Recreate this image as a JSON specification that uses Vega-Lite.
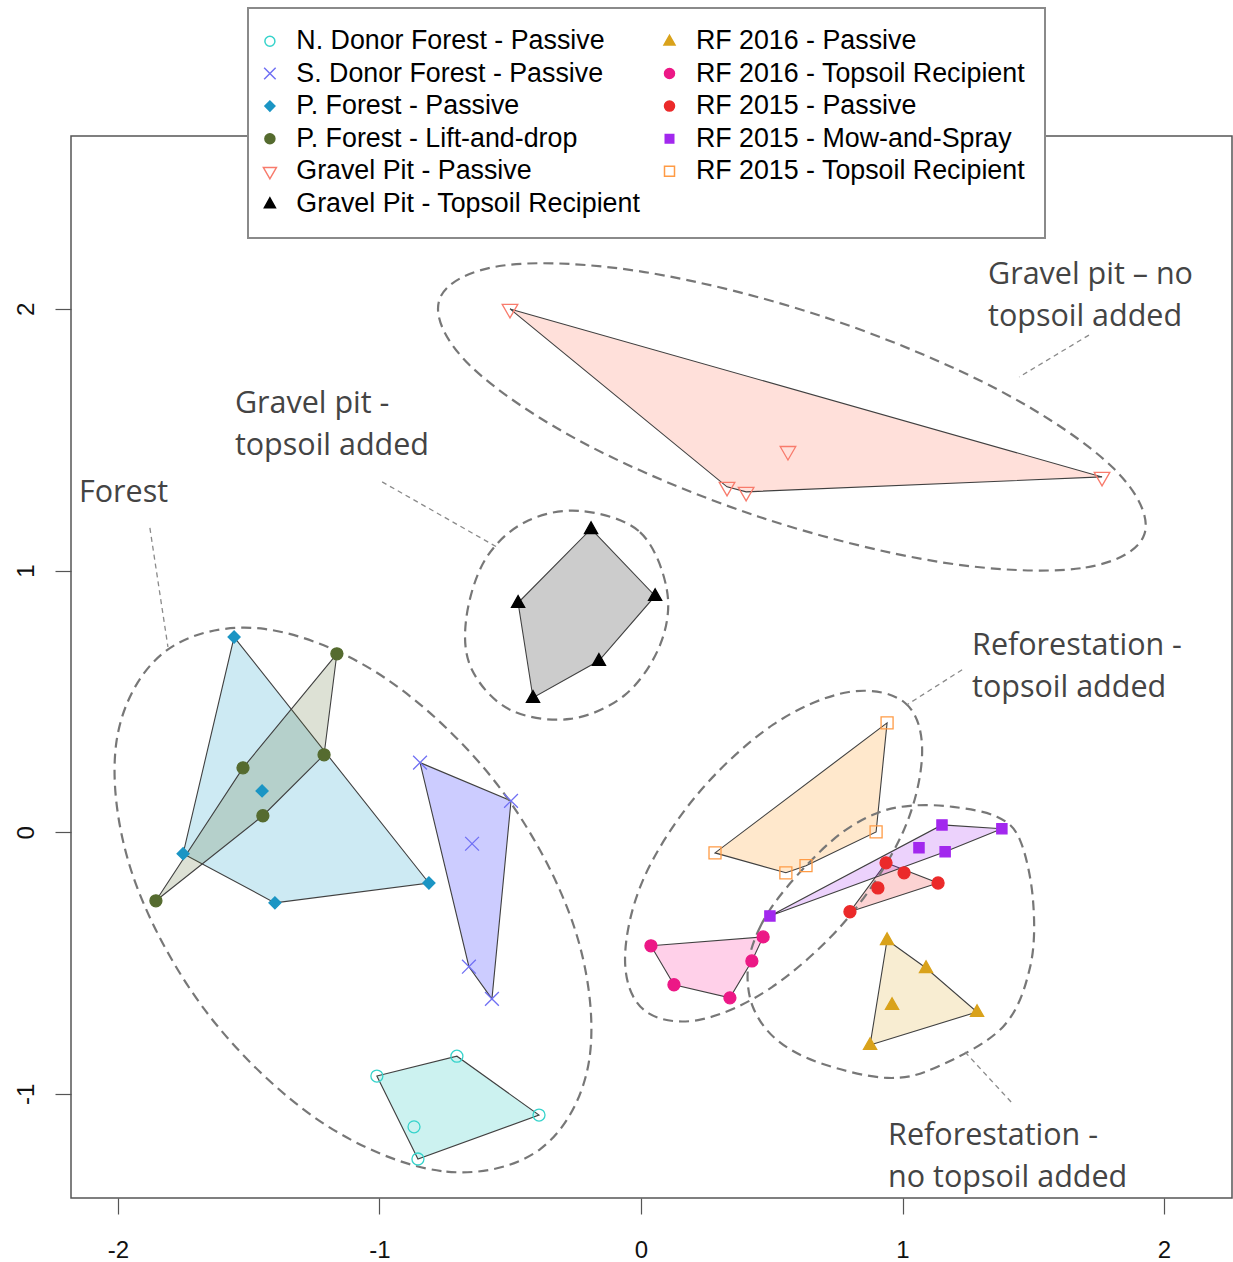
{
  "$schema": "https://vega.github.io/schema/vega-lite/v6.json",
  "width": 1161,
  "height": 1062,
  "autosize": {"type": "none"},
  "padding": {"left": 71, "top": 136, "right": 1, "bottom": 64},
  "background": "white",
  "config": {
    "view": {"stroke": "#555555", "strokeWidth": 1.5},
    "axis": {
      "grid": false,
      "domain": false,
      "tickColor": "#555555",
      "tickSize": 16,
      "tickWidth": 1.2,
      "labelFont": "Liberation Sans",
      "labelFontSize": 24,
      "labelColor": "#111111",
      "labelExpr": "replace(datum.label, '−', '-')"
    },
    "legend": {"strokeWidth": 2}
  },
  "datasets": {
    "pts": [
      {"g": "N. Donor Forest - Passive", "x": -1.010, "y": -0.932, "v": 1},
      {"g": "N. Donor Forest - Passive", "x": -0.704, "y": -0.856, "v": 2},
      {"g": "N. Donor Forest - Passive", "x": -0.390, "y": -1.081, "v": 3},
      {"g": "N. Donor Forest - Passive", "x": -0.853, "y": -1.249, "v": 4},
      {"g": "N. Donor Forest - Passive", "x": -0.868, "y": -1.126},
      {"g": "S. Donor Forest - Passive", "x": -0.845, "y": 0.266, "v": 1},
      {"g": "S. Donor Forest - Passive", "x": -0.497, "y": 0.120, "v": 2},
      {"g": "S. Donor Forest - Passive", "x": -0.570, "y": -0.637, "v": 3},
      {"g": "S. Donor Forest - Passive", "x": -0.658, "y": -0.514, "v": 4},
      {"g": "S. Donor Forest - Passive", "x": -0.646, "y": -0.044},
      {"g": "P. Forest - Passive", "x": -1.556, "y": 0.746, "v": 1},
      {"g": "P. Forest - Passive", "x": -0.811, "y": -0.194, "v": 2},
      {"g": "P. Forest - Passive", "x": -1.400, "y": -0.270, "v": 3},
      {"g": "P. Forest - Passive", "x": -1.751, "y": -0.082, "v": 4},
      {"g": "P. Forest - Passive", "x": -1.449, "y": 0.158},
      {"g": "P. Forest - Lift-and-drop", "x": -1.163, "y": 0.682, "v": 1},
      {"g": "P. Forest - Lift-and-drop", "x": -1.212, "y": 0.296, "v": 2},
      {"g": "P. Forest - Lift-and-drop", "x": -1.446, "y": 0.063, "v": 3},
      {"g": "P. Forest - Lift-and-drop", "x": -1.855, "y": -0.262, "v": 4},
      {"g": "P. Forest - Lift-and-drop", "x": -1.522, "y": 0.246, "v": 5},
      {"g": "Gravel Pit - Passive", "x": -0.501, "y": 2.000, "v": 1},
      {"g": "Gravel Pit - Passive", "x": 1.763, "y": 1.358, "v": 2},
      {"g": "Gravel Pit - Passive", "x": 0.402, "y": 1.301, "v": 3},
      {"g": "Gravel Pit - Passive", "x": 0.329, "y": 1.320, "v": 4},
      {"g": "Gravel Pit - Passive", "x": 0.562, "y": 1.457},
      {"g": "Gravel Pit - Topsoil Recipient", "x": -0.191, "y": 1.159, "v": 1},
      {"g": "Gravel Pit - Topsoil Recipient", "x": 0.054, "y": 0.903, "v": 2},
      {"g": "Gravel Pit - Topsoil Recipient", "x": -0.161, "y": 0.655, "v": 3},
      {"g": "Gravel Pit - Topsoil Recipient", "x": -0.413, "y": 0.514, "v": 4},
      {"g": "Gravel Pit - Topsoil Recipient", "x": -0.470, "y": 0.877, "v": 5},
      {"g": "RF 2016 - Passive", "x": 0.941, "y": -0.412, "v": 1},
      {"g": "RF 2016 - Passive", "x": 1.090, "y": -0.519, "v": 2},
      {"g": "RF 2016 - Passive", "x": 1.285, "y": -0.687, "v": 3},
      {"g": "RF 2016 - Passive", "x": 0.876, "y": -0.813, "v": 4},
      {"g": "RF 2016 - Passive", "x": 0.960, "y": -0.660},
      {"g": "RF 2016 - Topsoil Recipient", "x": 0.038, "y": -0.434, "v": 1},
      {"g": "RF 2016 - Topsoil Recipient", "x": 0.467, "y": -0.400, "v": 2},
      {"g": "RF 2016 - Topsoil Recipient", "x": 0.424, "y": -0.492, "v": 3},
      {"g": "RF 2016 - Topsoil Recipient", "x": 0.340, "y": -0.633, "v": 4},
      {"g": "RF 2016 - Topsoil Recipient", "x": 0.126, "y": -0.583, "v": 5},
      {"g": "RF 2015 - Passive", "x": 0.937, "y": -0.117, "v": 1},
      {"g": "RF 2015 - Passive", "x": 1.136, "y": -0.194, "v": 2},
      {"g": "RF 2015 - Passive", "x": 0.799, "y": -0.304, "v": 3},
      {"g": "RF 2015 - Passive", "x": 1.006, "y": -0.155},
      {"g": "RF 2015 - Passive", "x": 0.906, "y": -0.213},
      {"g": "RF 2015 - Mow-and-Spray", "x": 1.151, "y": 0.028, "v": 1},
      {"g": "RF 2015 - Mow-and-Spray", "x": 1.380, "y": 0.013, "v": 2},
      {"g": "RF 2015 - Mow-and-Spray", "x": 1.163, "y": -0.075, "v": 3},
      {"g": "RF 2015 - Mow-and-Spray", "x": 0.493, "y": -0.320, "v": 4},
      {"g": "RF 2015 - Mow-and-Spray", "x": 1.063, "y": -0.059},
      {"g": "RF 2015 - Topsoil Recipient", "x": 0.941, "y": 0.418, "v": 1},
      {"g": "RF 2015 - Topsoil Recipient", "x": 0.899, "y": 0.001, "v": 2},
      {"g": "RF 2015 - Topsoil Recipient", "x": 0.631, "y": -0.128, "v": 3},
      {"g": "RF 2015 - Topsoil Recipient", "x": 0.554, "y": -0.155, "v": 4},
      {"g": "RF 2015 - Topsoil Recipient", "x": 0.283, "y": -0.079, "v": 5}
    ],
    "rings": [
      {"r": 1, "k": 1, "x": 1.925, "y": 1.139},
      {"r": 1, "k": 2, "x": 1.681, "y": 1.009},
      {"r": 1, "k": 3, "x": 1.141, "y": 1.033},
      {"r": 1, "k": 4, "x": 0.450, "y": 1.206},
      {"r": 1, "k": 5, "x": -0.207, "y": 1.481},
      {"r": 1, "k": 6, "x": -0.654, "y": 1.784},
      {"r": 1, "k": 7, "x": -0.771, "y": 2.035},
      {"r": 1, "k": 8, "x": -0.527, "y": 2.166},
      {"r": 1, "k": 9, "x": 0.013, "y": 2.141},
      {"r": 1, "k": 10, "x": 0.704, "y": 1.968},
      {"r": 1, "k": 11, "x": 1.362, "y": 1.693},
      {"r": 1, "k": 12, "x": 1.808, "y": 1.390},
      {"r": 2, "k": 1, "x": -0.233, "y": 1.228},
      {"r": 2, "k": 2, "x": -0.004, "y": 1.147},
      {"r": 2, "k": 3, "x": 0.099, "y": 0.926},
      {"r": 2, "k": 4, "x": 0.073, "y": 0.716},
      {"r": 2, "k": 5, "x": -0.061, "y": 0.525},
      {"r": 2, "k": 6, "x": -0.271, "y": 0.433},
      {"r": 2, "k": 7, "x": -0.501, "y": 0.468},
      {"r": 2, "k": 8, "x": -0.646, "y": 0.620},
      {"r": 2, "k": 9, "x": -0.669, "y": 0.811},
      {"r": 2, "k": 10, "x": -0.597, "y": 1.040},
      {"r": 2, "k": 11, "x": -0.444, "y": 1.185},
      {"r": 3, "k": 1, "x": -0.384, "y": -1.210},
      {"r": 3, "k": 2, "x": -0.763, "y": -1.295},
      {"r": 3, "k": 3, "x": -1.231, "y": -1.102},
      {"r": 3, "k": 4, "x": -1.665, "y": -0.683},
      {"r": 3, "k": 5, "x": -1.948, "y": -0.151},
      {"r": 3, "k": 6, "x": -2.005, "y": 0.352},
      {"r": 3, "k": 7, "x": -1.818, "y": 0.692},
      {"r": 3, "k": 8, "x": -1.440, "y": 0.777},
      {"r": 3, "k": 9, "x": -0.972, "y": 0.585},
      {"r": 3, "k": 10, "x": -0.537, "y": 0.166},
      {"r": 3, "k": 11, "x": -0.254, "y": -0.367},
      {"r": 3, "k": 12, "x": -0.198, "y": -0.870},
      {"r": 4, "k": 1, "x": 0.795, "y": 0.536},
      {"r": 4, "k": 2, "x": 1.010, "y": 0.494},
      {"r": 4, "k": 3, "x": 1.075, "y": 0.303},
      {"r": 4, "k": 4, "x": 1.002, "y": 0.001},
      {"r": 4, "k": 5, "x": 0.792, "y": -0.327},
      {"r": 4, "k": 6, "x": 0.501, "y": -0.592},
      {"r": 4, "k": 7, "x": 0.218, "y": -0.718},
      {"r": 4, "k": 8, "x": 0.011, "y": -0.679},
      {"r": 4, "k": 9, "x": -0.061, "y": -0.488},
      {"r": 4, "k": 10, "x": 0.008, "y": -0.182},
      {"r": 4, "k": 11, "x": 0.214, "y": 0.143},
      {"r": 4, "k": 12, "x": 0.505, "y": 0.411},
      {"r": 5, "k": 1, "x": 0.409, "y": -0.516},
      {"r": 5, "k": 2, "x": 0.455, "y": -0.363},
      {"r": 5, "k": 3, "x": 0.558, "y": -0.210},
      {"r": 5, "k": 4, "x": 0.734, "y": -0.029},
      {"r": 5, "k": 5, "x": 0.887, "y": 0.067},
      {"r": 5, "k": 6, "x": 1.029, "y": 0.101},
      {"r": 5, "k": 7, "x": 1.193, "y": 0.097},
      {"r": 5, "k": 8, "x": 1.361, "y": 0.059},
      {"r": 5, "k": 9, "x": 1.449, "y": -0.029},
      {"r": 5, "k": 10, "x": 1.499, "y": -0.259},
      {"r": 5, "k": 11, "x": 1.488, "y": -0.515},
      {"r": 5, "k": 12, "x": 1.384, "y": -0.744},
      {"r": 5, "k": 13, "x": 1.132, "y": -0.897},
      {"r": 5, "k": 14, "x": 0.941, "y": -0.939},
      {"r": 5, "k": 15, "x": 0.685, "y": -0.882},
      {"r": 5, "k": 16, "x": 0.520, "y": -0.794},
      {"r": 5, "k": 17, "x": 0.428, "y": -0.668}
    ],
    "leaders": [
      {"id": 1, "k": 1, "x": -1.878, "y": 1.163},
      {"id": 1, "k": 2, "x": -1.809, "y": 0.708},
      {"id": 2, "k": 1, "x": -0.990, "y": 1.339},
      {"id": 2, "k": 2, "x": -0.551, "y": 1.090},
      {"id": 3, "k": 1, "x": 1.713, "y": 1.900},
      {"id": 3, "k": 2, "x": 1.446, "y": 1.740},
      {"id": 4, "k": 1, "x": 1.228, "y": 0.621},
      {"id": 4, "k": 2, "x": 1.017, "y": 0.487},
      {"id": 5, "k": 1, "x": 1.239, "y": -0.840},
      {"id": 5, "k": 2, "x": 1.419, "y": -1.035}
    ],
    "notes": [
      {"t": "Gravel pit – no", "x": 1.327, "y": 2.095},
      {"t": "topsoil added", "x": 1.327, "y": 1.935},
      {"t": "Gravel pit -", "x": -1.553, "y": 1.602},
      {"t": "topsoil added", "x": -1.553, "y": 1.442},
      {"t": "Forest", "x": -2.149, "y": 1.262},
      {"t": "Reforestation -", "x": 1.266, "y": 0.678},
      {"t": "topsoil added", "x": 1.266, "y": 0.517},
      {"t": "Reforestation -", "x": 0.945, "y": -1.195},
      {"t": "no topsoil added", "x": 0.945, "y": -1.355}
    ]
  },
  "encoding": {
    "x": {
      "field": "x",
      "type": "quantitative",
      "scale": {"domain": [-2.1797, 2.26], "nice": false, "zero": false},
      "axis": {"values": [-2, -1, 0, 1, 2], "title": null, "labelPadding": 24, "labelFlush": false}
    },
    "y": {
      "field": "y",
      "type": "quantitative",
      "scale": {"domain": [-1.398, 2.661], "nice": false, "zero": false},
      "axis": {
        "values": [-1, 0, 1, 2],
        "title": null,
        "labelAngle": 270,
        "labelAlign": "center",
        "labelBaseline": "alphabetic",
        "labelPadding": 22,
        "labelFlush": false
      }
    }
  },
  "layer": [
    {
      "data": {"name": "pts"},
      "transform": [{"filter": "isValid(datum.v)"}],
      "mark": {
        "type": "line",
        "interpolate": "linear-closed",
        "filled": true,
        "fillOpacity": 0.2,
        "stroke": "#404040",
        "strokeWidth": 1.1
      },
      "encoding": {
        "color": {
          "field": "g",
          "type": "nominal",
          "legend": null,
          "scale": {
            "domain": [
              "N. Donor Forest - Passive", "RF 2016 - Passive",
              "S. Donor Forest - Passive", "RF 2016 - Topsoil Recipient",
              "P. Forest - Passive", "RF 2015 - Passive",
              "P. Forest - Lift-and-drop", "RF 2015 - Mow-and-Spray",
              "Gravel Pit - Passive", "RF 2015 - Topsoil Recipient",
              "Gravel Pit - Topsoil Recipient"
            ],
            "range": [
              "#00BFB6", "#DAA520", "#0000FF", "#FF1493", "#0596C3", "#EE2222",
              "#556B2F", "#A020F0", "#FF6347", "#FF8C00", "#000000"
            ]
          }
        },
        "order": {"field": "v", "type": "quantitative"}
      }
    },
    {
      "data": {"name": "rings"},
      "mark": {
        "type": "line",
        "interpolate": "cardinal-closed",
        "stroke": "#777777",
        "strokeWidth": 2.2,
        "strokeDash": [10, 6]
      },
      "encoding": {
        "detail": {"field": "r", "type": "nominal"},
        "order": {"field": "k", "type": "quantitative"}
      }
    },
    {
      "data": {"name": "leaders"},
      "mark": {
        "type": "line",
        "stroke": "#8a8a8a",
        "strokeWidth": 1.3,
        "strokeDash": [5, 4]
      },
      "encoding": {
        "detail": {"field": "id", "type": "nominal"},
        "order": {"field": "k", "type": "quantitative"}
      }
    },
    {
      "data": {"name": "pts"},
      "mark": {"type": "point", "size": 144, "strokeWidth": 1.3, "opacity": 1},
      "encoding": {
        "shape": {
          "field": "g",
          "type": "nominal",
          "scale": {
            "domain": [
              "N. Donor Forest - Passive", "S. Donor Forest - Passive",
              "P. Forest - Passive", "P. Forest - Lift-and-drop",
              "Gravel Pit - Passive", "Gravel Pit - Topsoil Recipient",
              "RF 2016 - Passive", "RF 2016 - Topsoil Recipient",
              "RF 2015 - Passive", "RF 2015 - Mow-and-Spray",
              "RF 2015 - Topsoil Recipient"
            ],
            "range": [
              "circle",
              "M-1.15,-1.15L1.15,1.15M-1.15,1.15L1.15,-1.15",
              "diamond",
              "circle",
              "M-1.3,-0.75L1.3,-0.75L0,1.5Z",
              "M0,-1.2L1.1,0.75L-1.1,0.75Z",
              "M0,-1.2L1.1,0.75L-1.1,0.75Z",
              "circle",
              "circle",
              "M-0.85,-0.85L0.85,-0.85L0.85,0.85L-0.85,0.85Z",
              "square"
            ]
          },
          "legend": {
            "title": null,
            "orient": "none",
            "legendX": 177,
            "legendY": -128,
            "columns": 2,
            "labelFont": "Liberation Sans",
            "labelFontSize": 26.8,
            "labelColor": "#000000",
            "labelLimit": 600,
            "labelOffset": 13,
            "symbolOffset": -11,
            "symbolSize": 100,
            "symbolStrokeWidth": 1.5,
            "rowPadding": 4.6,
            "columnPadding": 19.6,
            "padding": 19.5,
            "fillColor": "#ffffff",
            "strokeColor": "#8a8a8a",
            "zindex": 1
          }
        },
        "fill": {
          "field": "g",
          "type": "nominal",
          "scale": {
            "domain": [
              "N. Donor Forest - Passive", "S. Donor Forest - Passive",
              "P. Forest - Passive", "P. Forest - Lift-and-drop",
              "Gravel Pit - Passive", "Gravel Pit - Topsoil Recipient",
              "RF 2016 - Passive", "RF 2016 - Topsoil Recipient",
              "RF 2015 - Passive", "RF 2015 - Mow-and-Spray",
              "RF 2015 - Topsoil Recipient"
            ],
            "range": [
              "transparent", "transparent", "#1B95C4", "#556B2F", "transparent", "#000000",
              "#D9A21B", "#EC1886", "#EB2A2A", "#A228EE", "transparent"
            ]
          }
        },
        "stroke": {
          "field": "g",
          "type": "nominal",
          "scale": {
            "domain": [
              "N. Donor Forest - Passive", "S. Donor Forest - Passive",
              "P. Forest - Passive", "P. Forest - Lift-and-drop",
              "Gravel Pit - Passive", "Gravel Pit - Topsoil Recipient",
              "RF 2016 - Passive", "RF 2016 - Topsoil Recipient",
              "RF 2015 - Passive", "RF 2015 - Mow-and-Spray",
              "RF 2015 - Topsoil Recipient"
            ],
            "range": [
              "#36D3CB", "#7070F4", "#1B95C4", "#556B2F", "#F87B6C", "#000000",
              "#D9A21B", "#EC1886", "#EB2A2A", "#A228EE", "#FF9B45"
            ]
          }
        }
      }
    },
    {
      "data": {"name": "notes"},
      "mark": {
        "type": "text",
        "align": "left",
        "baseline": "alphabetic",
        "font": "Open Sans",
        "fontSize": 30.5,
        "fill": "#444444"
      },
      "encoding": {
        "text": {"field": "t", "type": "nominal"}
      }
    }
  ]
}
